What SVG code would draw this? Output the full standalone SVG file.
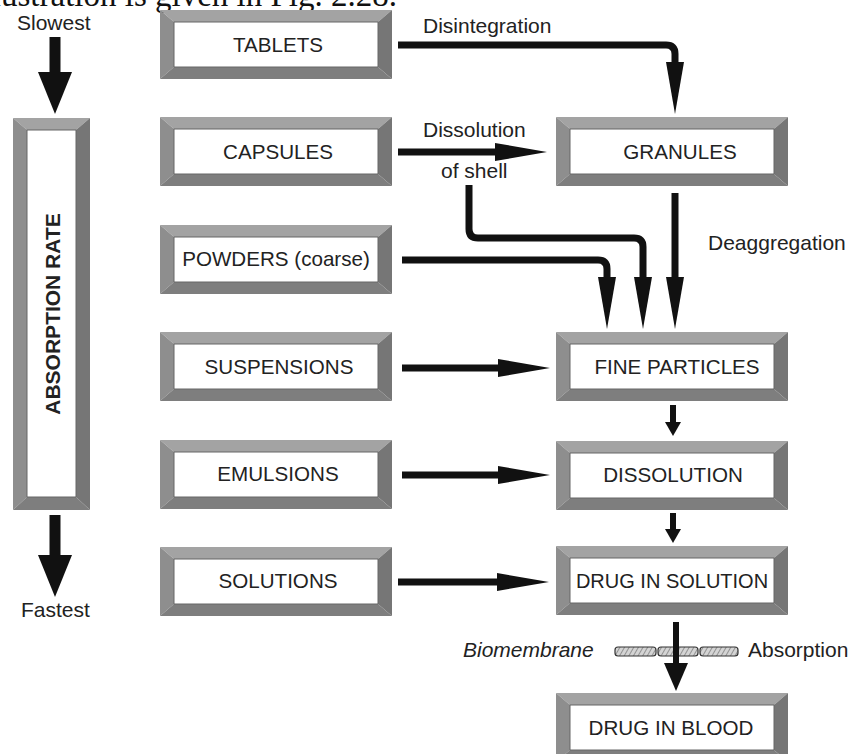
<svg xmlns="http://www.w3.org/2000/svg" xmlns:xlink="http://www.w3.org/1999/xlink" width="849" height="754" viewBox="0 0 849 754">
<style>
.lbl{font-family:"Liberation Sans",Arial,sans-serif;font-size:21px;fill:#222}
.box{font-family:"Liberation Sans",Arial,sans-serif;font-size:20.6px;fill:#222;text-anchor:middle}
.ttl{font-family:"Liberation Sans",Arial,sans-serif;font-size:21px;font-weight:bold;fill:#222;text-anchor:middle}
.cap{font-family:"Liberation Serif","Times New Roman",serif;font-size:33px;fill:#111;text-anchor:end}
.ar{fill:none;stroke:#111;stroke-width:7}
.ars{fill:none;stroke:#111;stroke-width:6}
.arb{fill:none;stroke:#111;stroke-width:11}
.mem{fill:url(#hatch);stroke:#333;stroke-width:1.2}
</style>
<defs>
<marker id="ah" markerUnits="userSpaceOnUse" markerWidth="52" markerHeight="18" viewBox="0 0 52 18" refX="0" refY="9" orient="auto"><path d="M0,0 L52,9 L0,18 z" fill="#111"/></marker>
<marker id="ahs" markerUnits="userSpaceOnUse" markerWidth="14" markerHeight="16" viewBox="0 0 14 16" refX="0" refY="8" orient="auto"><path d="M0,0 L14,8 L0,16 z" fill="#111"/></marker>
<marker id="ahm" markerUnits="userSpaceOnUse" markerWidth="28" markerHeight="24" viewBox="0 0 28 24" refX="0" refY="12" orient="auto"><path d="M0,0 L28,12 L0,24 z" fill="#111"/></marker>
<marker id="ahb" markerUnits="userSpaceOnUse" markerWidth="42" markerHeight="34" viewBox="0 0 42 34" refX="0" refY="17" orient="auto"><path d="M0,0 L42,17 L0,34 z" fill="#111"/></marker>
<pattern id="hatch" patternUnits="userSpaceOnUse" width="4" height="4" patternTransform="rotate(30)"><rect width="4" height="4" fill="#d4d4d4"/><line x1="0" y1="0" x2="0" y2="4" stroke="#666" stroke-width="1.2"/></pattern>
<g id="frame">
<polygon points="0,0 232,0 218,12 14,12" fill="#a3a3a3"/>
<polygon points="0,0 14,12 14,57 0,69" fill="#8e8e8e"/>
<polygon points="232,0 232,69 218,57 218,12" fill="#767676"/>
<polygon points="0,69 232,69 218,57 14,57" fill="#7e7e7e"/>
<rect x="14" y="12" width="204" height="45" fill="#fff" stroke="#666" stroke-width="1"/>
</g>
</defs>
<rect width="849" height="754" fill="#fff"/>
<text class="cap" x="397" y="6">illustration is given in Fig. 2.28.</text>

<g id="absorption-rate">
<polygon points="13,118 90,118 76,130 27,130" fill="#a3a3a3"/>
<polygon points="13,118 27,130 27,497 13,510" fill="#8e8e8e"/>
<polygon points="90,118 90,510 76,497 76,130" fill="#767676"/>
<polygon points="13,510 90,510 76,497 27,497" fill="#7e7e7e"/>
<rect x="27" y="130" width="49" height="367" fill="#fff" stroke="#666" stroke-width="1"/>
<text class="ttl" transform="translate(60,314) rotate(-90)">ABSORPTION RATE</text>
</g>

<g id="n-tablets"><use xlink:href="#frame" x="160" y="10"/><text class="box" x="278" y="52">TABLETS</text></g>
<g id="n-capsules"><use xlink:href="#frame" x="160" y="117"/><text class="box" x="278" y="159">CAPSULES</text></g>
<g id="n-powders"><use xlink:href="#frame" x="160" y="225"/><text class="box" x="276" y="266">POWDERS (coarse)</text></g>
<g id="n-suspensions"><use xlink:href="#frame" x="160" y="332"/><text class="box" x="279" y="374">SUSPENSIONS</text></g>
<g id="n-emulsions"><use xlink:href="#frame" x="160" y="440"/><text class="box" x="278" y="481">EMULSIONS</text></g>
<g id="n-solutions"><use xlink:href="#frame" x="160" y="547"/><text class="box" x="278" y="588">SOLUTIONS</text></g>

<g id="n-granules"><use xlink:href="#frame" x="556" y="117"/><text class="box" x="680" y="159">GRANULES</text></g>
<g id="n-fine"><use xlink:href="#frame" x="556" y="332"/><text class="box" x="677" y="374">FINE PARTICLES</text></g>
<g id="n-dissolution"><use xlink:href="#frame" x="556" y="441"/><text class="box" x="673" y="482">DISSOLUTION</text></g>
<g id="n-drug-solution"><use xlink:href="#frame" x="556" y="546"/><text class="box" x="672" y="588" style="font-size:20px">DRUG IN SOLUTION</text></g>
<g id="n-drug-blood"><use xlink:href="#frame" x="556" y="693"/><text class="box" x="671" y="735">DRUG IN BLOOD</text></g>

<g id="membrane">
<rect class="mem" x="615" y="647" width="41" height="9" rx="3"/>
<rect class="mem" x="658" y="647" width="40" height="9" rx="3"/>
<rect class="mem" x="700" y="647" width="38" height="9" rx="3"/>
</g>

<g id="labels">
<text class="lbl" x="17" y="30">Slowest</text>
<text class="lbl" x="21" y="617">Fastest</text>
<text class="lbl" x="423" y="33">Disintegration</text>
<text class="lbl" x="423" y="137">Dissolution</text>
<text class="lbl" x="441" y="178">of shell</text>
<text class="lbl" x="708" y="250">Deaggregation</text>
<text class="lbl" x="463" y="657" font-style="italic">Biomembrane</text>
<text class="lbl" x="748" y="657">Absorption</text>
</g>

<g id="connectors">
<path class="arb" d="M55,37 V72" marker-end="url(#ahb)"/>
<path class="arb" d="M55,515 V555" marker-end="url(#ahb)"/>
<path class="ar" d="M398,45 H666 Q675,45 675,54 V62" marker-end="url(#ah)"/>
<path class="ar" d="M398,152 H495" marker-end="url(#ah)"/>
<path class="ar" d="M469,185 V229 Q469,238 478,238 H634 Q643,238 643,247 V277" marker-end="url(#ah)"/>
<path class="ar" d="M402,260 H598 Q607,260 607,269 V277" marker-end="url(#ah)"/>
<path class="ar" d="M675,193 V277" marker-end="url(#ah)"/>
<path class="ar" d="M402,368 H498" marker-end="url(#ah)"/>
<path class="ar" d="M402,475 H498" marker-end="url(#ah)"/>
<path class="ar" d="M398,582 H497" marker-end="url(#ah)"/>
<path class="ars" d="M673,405 V422" marker-end="url(#ahs)"/>
<path class="ars" d="M673,513 V529" marker-end="url(#ahs)"/>
<path class="ars" d="M676,622 V663" marker-end="url(#ahm)"/>
</g>
</svg>
